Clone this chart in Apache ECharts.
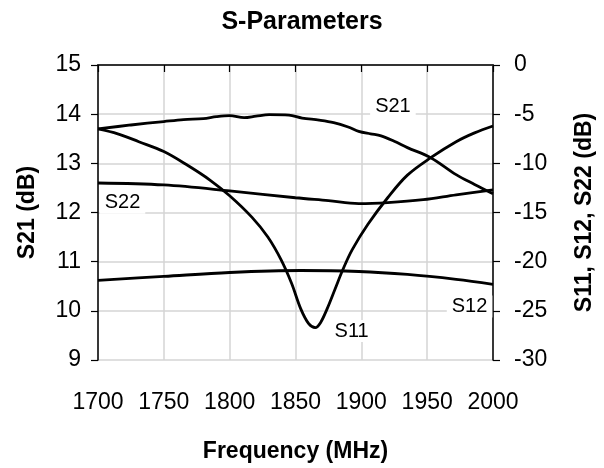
<!DOCTYPE html>
<html><head><meta charset="utf-8">
<script src="https://cdn.jsdelivr.net/npm/echarts@6/dist/echarts.min.js"></script>
<style>html,body{margin:0;padding:0;background:#fff}#c{width:604px;height:468px}</style>
</head><body><div id="c"></div>
<script>
const xTicks = [1700, 1750, 1800, 1850, 1900, 1950, 2000];
const s21Freq = [1700,1725,1750,1765,1780,1790,1800,1811,1820,1830,1845,1855,1868,1879,1890,1898,1907,1915,1925,1935,1953,1972,1986,2000];
const s21Val  = [13.70,13.78,13.85,13.89,13.91,13.95,13.97,13.93,13.96,13.99,13.98,13.92,13.88,13.83,13.74,13.65,13.60,13.56,13.45,13.32,13.11,12.77,12.57,12.38];
const s11Freq = [1700,1715,1731,1750,1768,1785,1800,1817,1829,1839,1847,1854,1860,1865,1869,1874,1880,1886,1893,1905,1920,1935,1953,1972,1986,2000];
const s11Val  = [-6.5,-7.0,-7.8,-8.8,-10.2,-11.7,-13.3,-15.5,-17.5,-19.8,-22.2,-24.8,-26.3,-26.7,-26.2,-24.8,-22.8,-20.8,-18.8,-16.2,-13.5,-11.2,-9.4,-7.8,-6.9,-6.2];
const s22Freq = [1700,1750,1800,1850,1875,1898,1920,1947,1972,2000];
const s22Val  = [-12.0,-12.2,-12.8,-13.5,-13.8,-14.1,-14.0,-13.7,-13.2,-12.7];
const s12Freq = [1700,1750,1800,1854,1898,1935,1972,2000];
const s12Val  = [-21.9,-21.5,-21.1,-20.9,-21.0,-21.3,-21.8,-22.3];
const labelPos = {S21:[1924,14.15], S22:[1718.6,-14.0], S11:[1892.6,-27.05], S12:[1982.2,-24.55]};

const F = 'Liberation Sans, Arial, sans-serif';
const zip = (a,b)=>a.map((v,i)=>[v,b[i]]);
function lab(name){
  return {symbol:'rect', symbolSize:0, silent:true,
    label:{show:true, position:'inside', formatter:name, fontFamily:F, fontSize:20, color:'#000',
      backgroundColor:'#fff', padding:[1,5]},
    data:[{coord:labelPos[name]}]};
}
function line(name, data, yIdx){
  return {name, type:'line', data, yAxisIndex:yIdx, smooth:0.35, showSymbol:false,
    lineStyle:{color:'#000', width:2.8}, markPoint:lab(name), z:3};
}
const chart = echarts.init(document.getElementById('c'), null, {renderer:'canvas'});
chart.setOption({
  animation:false,
  backgroundColor:'#fff',
  title:{text:'S-Parameters', left:'center', top:5, textStyle:{fontFamily:F, fontSize:25, fontWeight:'bold', color:'#000'}},
  grid:{left:98, right:99, top:65, bottom:104},
  xAxis:[{type:'value', min:1700, max:2000, interval:50,
    name:'Frequency (MHz)', nameLocation:'middle', nameGap:80,
    nameTextStyle:{fontFamily:F, fontSize:23, fontWeight:'bold', color:'#000'},
    axisLine:{lineStyle:{color:'#000', width:1.5}},
    axisTick:{inside:false, length:7, lineStyle:{color:'#000', width:1.2}},
    axisLabel:{fontFamily:F, fontSize:23, color:'#000', margin:31, formatter:v=>String(v)},
    splitLine:{show:true, lineStyle:{color:'#d4d4d4', width:1.5}}},
    {type:'value', position:'top', min:1700, max:2000, axisLine:{lineStyle:{color:'#333', width:1.5}},
     axisTick:{show:false}, axisLabel:{show:false}, splitLine:{show:false}}],
  yAxis:[{type:'value', min:9, max:15, interval:1, position:'left',
    name:'S21 (dB)', nameLocation:'middle', nameGap:59, nameRotate:90,
    nameTextStyle:{fontFamily:F, fontSize:23, fontWeight:'bold', color:'#000'},
    axisLine:{show:true, lineStyle:{color:'#000', width:1.5}},
    axisTick:{show:true, inside:false, length:7, lineStyle:{color:'#000', width:1.2}},
    axisLabel:{fontFamily:F, fontSize:23, color:'#000', margin:17},
    splitLine:{show:true, lineStyle:{color:'#d4d4d4', width:1.5}}},
   {type:'value', min:-30, max:0, interval:5, position:'right',
    name:'S11, S12, S22 (dB)', nameLocation:'middle', nameGap:80, nameRotate:90,
    nameTextStyle:{fontFamily:F, fontSize:23, fontWeight:'bold', color:'#000'},
    axisLine:{show:true, lineStyle:{color:'#000', width:1.5}},
    axisTick:{show:true, inside:false, length:7, lineStyle:{color:'#000', width:1.2}},
    axisLabel:{fontFamily:F, fontSize:23, color:'#000', margin:21},
    splitLine:{show:false}}],
  series:[
    line('S21', zip(s21Freq, s21Val), 0),
    line('S11', zip(s11Freq, s11Val), 1),
    line('S22', zip(s22Freq, s22Val), 1),
    line('S12', zip(s12Freq, s12Val), 1)
  ]
});
</script></body></html>
